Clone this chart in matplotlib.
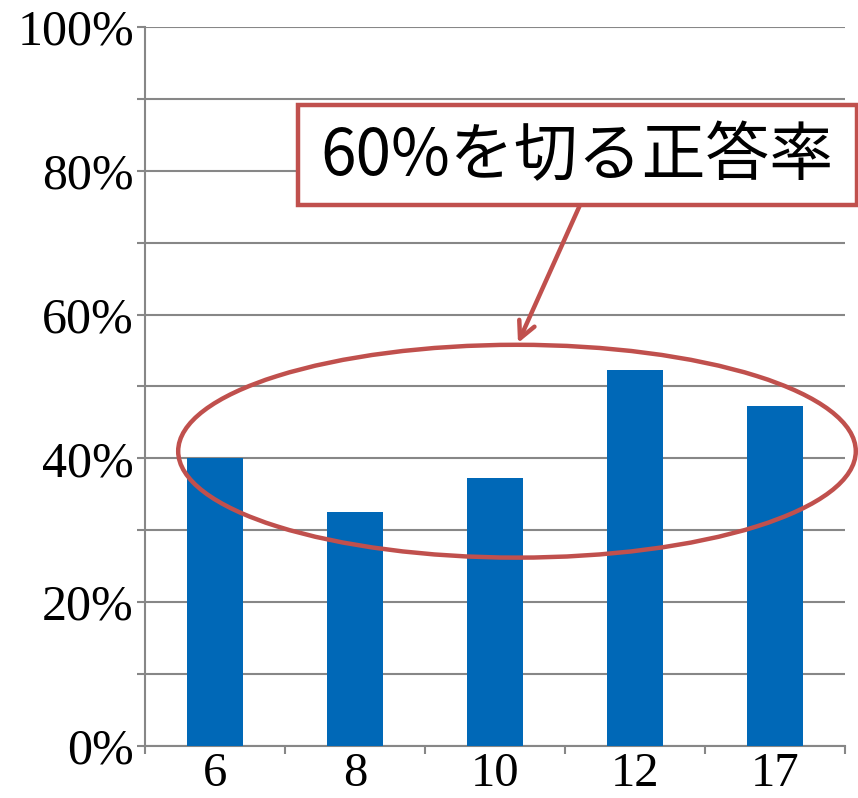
import matplotlib.pyplot as plt
from matplotlib import font_manager
from matplotlib.patches import Ellipse, Rectangle
from matplotlib.ticker import MultipleLocator, FuncFormatter, FixedLocator

noms = sorted({f.name for f in font_manager.fontManager.ttflist})
serif = [n for n in ["Liberation Serif", "Times New Roman", "DejaVu Serif"] if n in noms]
print(serif)
plt.rcParams["font.family"] = "serif"
plt.rcParams["font.serif"] = serif

# données
categories = ["6", "8", "10", "12", "17"]
taux = [0.40, 0.325, 0.373, 0.523, 0.473]
note = "60%を切る正答率"

rouge = "#C0504D"
bleu = "#0068B7"
gris = "#878787"

fig = plt.figure(figsize=(8.58, 7.98), dpi=100)
ax = fig.add_axes([145 / 858, 52 / 798, 700 / 858, 719 / 798])

x = range(len(categories))
ax.bar(x, taux, width=0.4, color=bleu, zorder=3)

ax.set_xlim(-0.5, len(categories) - 0.5)
ax.set_ylim(0, 1)

# grille horizontale tous les 10 %, étiquettes tous les 20 %
ax.yaxis.set_major_locator(MultipleLocator(0.1))
ax.yaxis.set_major_formatter(FuncFormatter(
    lambda v, p: f"{round(v * 100)}%" if round(v * 100) % 20 == 0 else ""))
ax.grid(axis="y", color=gris, linewidth=1.5, zorder=0)
ax.tick_params(axis="y", direction="out", length=6, width=1.5, color=gris,
               labelsize=36, pad=2)

ax.set_xticks(list(x))
ax.set_xticklabels(categories)
ax.xaxis.set_minor_locator(FixedLocator([i - 0.5 for i in range(len(categories) + 1)]))
ax.tick_params(axis="x", which="major", length=0, labelsize=35, pad=4)
ax.tick_params(axis="x", which="minor", direction="out", length=6, width=1.5, color=gris)

for s in ["top", "right"]:
    ax.spines[s].set_visible(False)
for s in ["left", "bottom"]:
    ax.spines[s].set_color(gris)
    ax.spines[s].set_linewidth(1.5)

# ellipse entourant les barres
ell = Ellipse((2.157, 0.41), 4.84, 0.296, fill=False, edgecolor=rouge,
              linewidth=3.2, zorder=5, clip_on=False)
ax.add_patch(ell)

# encadré du texte
fig.patches.append(Rectangle((298 / 858, 1 - 205 / 798), 559 / 858, 100 / 798,
                             transform=fig.transFigure, facecolor="white",
                             edgecolor=rouge, linewidth=3.2, zorder=6))
fig.text(577 / 858, 1 - 157 / 798, note, ha="center", va="center",
         fontsize=46, family=["Noto Sans CJK JP", "DejaVu Sans"], zorder=7)

# flèche
ax.annotate("", xy=(518 / 858, 1 - 343 / 798), xycoords="figure fraction",
            xytext=(580 / 858, 1 - 205 / 798), textcoords="figure fraction",
            arrowprops=dict(arrowstyle="->,head_length=1.2,head_width=0.6",
                            color=rouge, linewidth=3.2, shrinkA=0, shrinkB=0),
            annotation_clip=False)

fig.savefig("out.png", dpi=100)
